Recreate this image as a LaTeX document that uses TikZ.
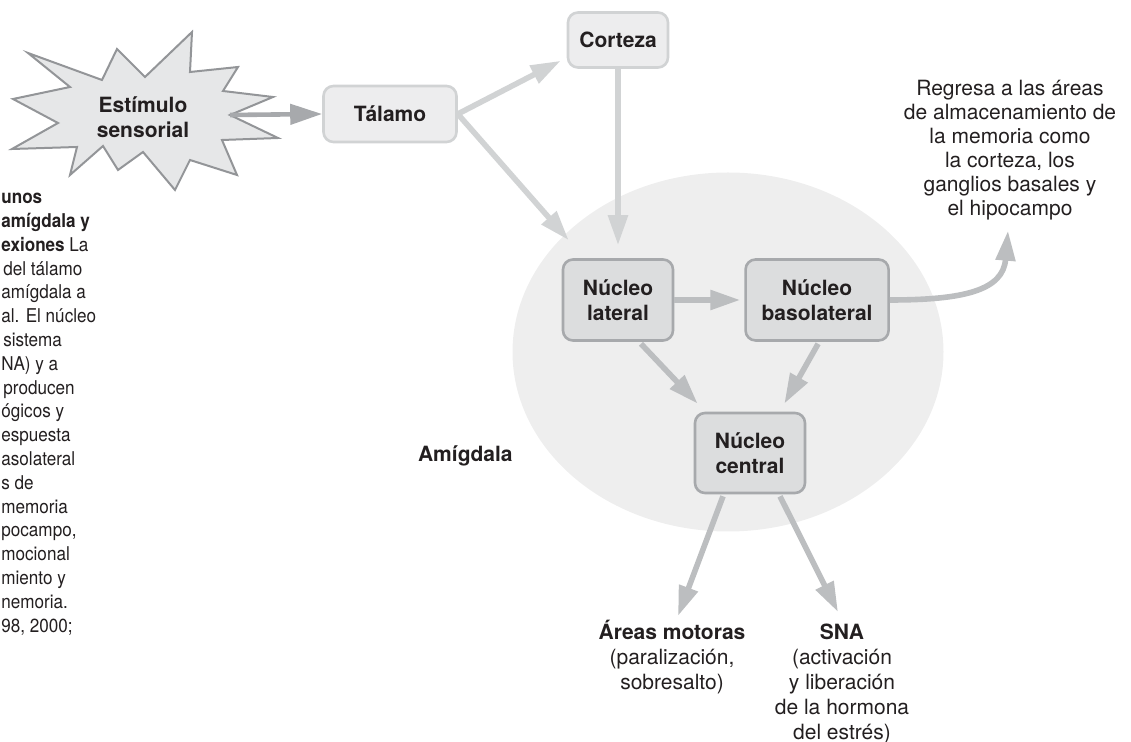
\documentclass[tikz,border=0pt]{standalone}
\usepackage{fontspec}
\setmainfont{TeX Gyre Heros}
\newfontfamily\capfont[FakeStretch=0.9]{TeX Gyre Heros}
\usetikzlibrary{positioning,arrows.meta,calc}
\definecolor{inkgray}{HTML}{231F20}
\definecolor{boxline}{HTML}{D1D3D4}
\definecolor{boxfill}{HTML}{EDEDEE}
\definecolor{nucfill}{HTML}{DCDDDE}
\definecolor{nucline}{HTML}{A7A9AC}
\definecolor{amyfill}{HTML}{EEEEEE}
\definecolor{starfill}{HTML}{E6E7E8}
\definecolor{starline}{HTML}{939598}
\definecolor{arrlight}{HTML}{D1D3D4}
\definecolor{arrmid}{HTML}{BCBEC0}
\definecolor{arrdark}{HTML}{A7A9AC}
\tikzset{
  >={Triangle[length=15pt,width=9.5pt]},
  thalarrow/.style={->,draw=arrlight,line width=2.8pt},
  amyarrow/.style={->,draw=arrmid,line width=2.8pt},
}

\begin{document}
\begin{tikzpicture}[
  x=0.5pt,y=-0.5pt,
  every node/.style={font=\fontsize{10.5}{12.5}\selectfont,text=inkgray,inner sep=0pt},
  outerbox/.style={draw=boxline,fill=boxfill,line width=1.3pt,rounded corners=5pt,
    font=\fontsize{10.5}{12.5}\selectfont\bfseries,minimum height=28pt},
  nucbox/.style={draw=nucline,fill=nucfill,line width=1.3pt,rounded corners=5pt,
    font=\fontsize{10.5}{12.5}\selectfont\bfseries,align=center,
    minimum width=55pt,minimum height=40.5pt},
  stimshape/.style={draw=starline,fill=starfill,line width=1pt,line join=miter},
  stimarrow/.style={-{Triangle[length=16pt,width=10pt]},draw=arrdark,line width=2.3pt},
  captext/.style={font=\capfont\fontsize{9.5}{11.5}\selectfont,anchor=base west},
  outtext/.style={align=center,anchor=north}
]
\useasboundingbox (0,0) rectangle (1131,742);

% amigdala
\fill[amyfill] (728,352) ellipse [x radius=107.75pt,y radius=89.75pt];
\node[font=\fontsize{10.5}{12.5}\selectfont\bfseries,anchor=base east] (amylbl) at (513,462) {Amígdala};

% estimulo
\draw[stimshape] (28,53) -- (102,80) -- (117,49) -- (145,77) -- (192,32) -- (190,72)
  -- (238,67) -- (223,91) -- (273,97) -- (230,115) -- (278,138) -- (222,140)
  -- (237,175) -- (190,160) -- (175,190) -- (143,152) -- (118,170) -- (103,146)
  -- (70,175) -- (77,147) -- (12,149) -- (58,123) -- (13,99) -- (70,87) -- cycle;
\coordinate (stimtip) at (230,115);
\node[font=\fontsize{10.5}{12.5}\selectfont\bfseries,align=center] (stim) at (143,117) {Estímulo\\sensorial};

\node[outerbox,minimum width=66.5pt] (tal) at (390,114) {Tálamo};
\node[outerbox,minimum width=50pt,minimum height=27.5pt] (cor) at (618,40) {Corteza};

\node[nucbox] (lat) at (618,300) {Núcleo\\lateral};
\node[nucbox,minimum width=71.5pt,right=35pt of lat] (bas) {Núcleo\\basolateral};
\node[nucbox,minimum height=40pt] (cen) at (750,453) {Núcleo\\central};

\node[outtext,font=\fontsize{10.5}{12}\selectfont] (reg) at (1010,80)
  {Regresa a las áreas\\de almacenamiento de\\la memoria como\\la corteza, los\\ganglios basales y\\el hipocampo};
\node[outtext] (are) at (672,620) {\textbf{Áreas motoras}\\(paralización,\\sobresalto)};
\node[outtext] (sna) at (842,624) {\textbf{SNA}\\(activación\\y liberación\\de la hormona\\del estrés)};

\draw[stimarrow] (stimtip) -- (tal.west);
\draw[thalarrow] (tal.east) -- ($(cor.south west)+(-6,-8)$);
\draw[thalarrow] (tal.east) -- ($(lat.north west)+(7,-18)$);
\draw[thalarrow] (cor.south) -- ($(lat.north)+(0,-13)$);

\draw[amyarrow] (lat.east) -- ($(bas.west)+(-4,0)$);
\draw[amyarrow] ($(lat.south)+(23,2)$) -- ($(cen.north west)+(4,-8)$);
\draw[amyarrow] ($(bas.south)+(1,2)$) -- ($(cen.north east)+(-22,-8)$);
\draw[amyarrow] (bas.east) .. controls (965,300) and (1003,290) .. ($(reg.south)+(-2,10)$);
\draw[amyarrow] ($(cen.south)+(-27,2)$) -- ($(are.north)+(6,-4)$);
\draw[amyarrow] ($(cen.south)+(30,2)$) -- ($(sna.north)+(-4,-12)$);

% pie de figura (cortado)
\node[captext] (cap1) at (1,204) {\bfseries unos};
\node[captext] (cap2) at (1,228) {\bfseries amígdala y};
\node[captext] (cap3) at (1,252) {\textbf{exiones} La};
\node[captext] (cap4) at (3,276) {del tálamo};
\node[captext] (cap5) at (1,299) {amígdala a};
\node[captext] (cap6) at (1,323) {al. El núcleo};
\node[captext] (cap7) at (3,347) {sistema};
\node[captext] (cap8) at (1,371) {NA) y a};
\node[captext] (cap9) at (3,395) {producen};
\node[captext] (cap10) at (1,418) {ógicos y};
\node[captext] (cap11) at (1,442) {espuesta};
\node[captext] (cap12) at (1,466) {asolateral};
\node[captext] (cap13) at (1,490) {s de};
\node[captext] (cap14) at (1,514) {memoria};
\node[captext] (cap15) at (1,537) {pocampo,};
\node[captext] (cap16) at (1,561) {mocional};
\node[captext] (cap17) at (1,585) {miento y};
\node[captext] (cap18) at (1,609) {nemoria.};
\node[captext] (cap19) at (1,633) {98, 2000;};

\end{tikzpicture}
\end{document}
